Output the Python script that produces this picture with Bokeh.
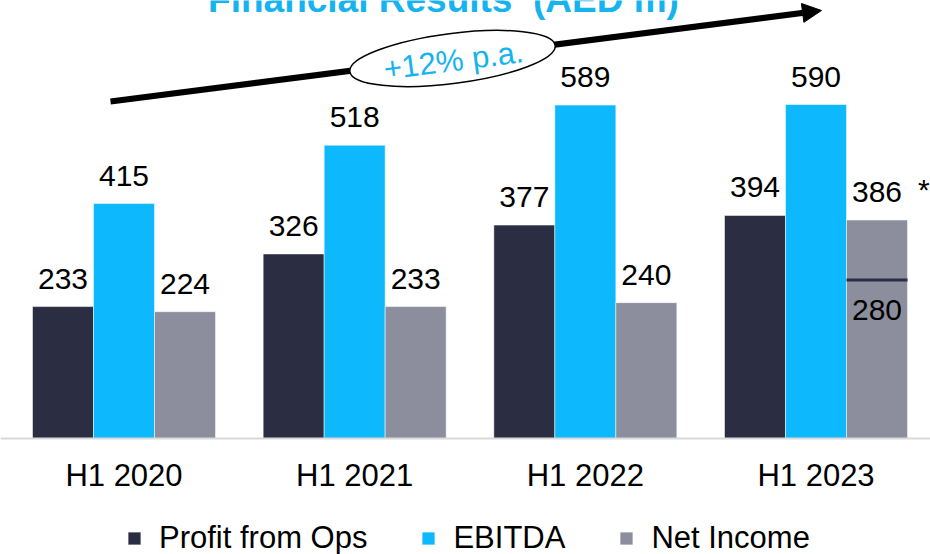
import numpy as np
from bokeh.plotting import figure
from bokeh.models import (Range1d, FixedTicker, ColumnDataSource, LabelSet, Label,
                          Arrow, NormalHead, Legend, LegendItem)
from bokeh.core.properties import value
from bokeh.embed import file_html
from bokeh.resources import INLINE

# ---------------- data ----------------
periods = ["H1 2020", "H1 2021", "H1 2022", "H1 2023"]
profit_ops = [233, 326, 377, 394]
ebitda = [415, 518, 589, 590]
net_income = [224, 233, 240, 386]
net_income_labels = ["224", "233", "240", "386"]
adj_net_income_2023 = 280
series_names = ["Profit from Ops", "EBITDA", "Net Income"]
growth_label = "+12% p.a."
title_text = "Financial Results\u00a0 (AED m)"

# ---------------- styles ----------------
C_DARK = "#2b2d42"
C_CYAN = "#0db9fc"
C_GREY = "#8c8e9e"
C_TXT_CYAN = "#17b3ee"
FONT = "Liberation Sans"

# page geometry (picture pixels)
WIDTH, HEIGHT = 930, 554
X0, DX = 123.5, 230.67      # centre of first group, spacing between groups
BASE, PXU = 438.0, 0.5661   # baseline y, pixels per AED m
W = 61.0 / DX               # bar width in group units

def dx(ix):
    return (ix - X0) / DX

def dy(iy):
    return (BASE - iy) / PXU

p = figure(width=WIDTH, height=HEIGHT, output_backend="svg", toolbar_location=None,
           x_range=Range1d(dx(0), dx(WIDTH)), y_range=Range1d(dy(HEIGHT), dy(0)),
           y_axis_location=None, min_border_left=0, min_border_right=0,
           min_border_top=0, min_border_bottom=0)
p.outline_line_color = None
p.xgrid.visible = False
p.ygrid.visible = False
p.background_fill_color = "white"
p.border_fill_color = "white"

idx = np.arange(len(periods))
offsets = [-W, 0.0, W]
colors = [C_DARK, C_CYAN, C_GREY]
series = [profit_ops, ebitda, net_income]
renderers = []
for vals, off, col in zip(series, offsets, colors):
    src = ColumnDataSource(dict(x=idx + off, top=vals))
    r = p.vbar(x="x", top="top", width=W, bottom=0, source=src,
               fill_color=col, line_color="white", line_alpha=0.5, line_width=1)
    renderers.append(r)

# value labels
label_texts = [[str(v) for v in profit_ops], [str(v) for v in ebitda], net_income_labels]
for vals, off, txts in zip(series, offsets, label_texts):
    src = ColumnDataSource(dict(x=idx + off, y=vals, t=txts))
    p.add_layout(LabelSet(x="x", y="y", text="t", source=src, y_offset=18,
                          text_align="center", text_baseline="alphabetic",
                          text_font=value(FONT), text_font_size="30px",
                          text_color="#000000"))

# asterisk on the last net income value
last = len(periods) - 1
p.add_layout(Label(x=last + W, y=net_income[last], text="*", x_offset=41, y_offset=30,
                   text_align="left", text_baseline="alphabetic",
                   text_font=FONT, text_font_size="30px", text_color="#000000"))

# adjusted net income marker
p.segment(x0=[last + W - W / 2], x1=[last + W + W / 2],
          y0=[adj_net_income_2023], y1=[adj_net_income_2023],
          line_color=C_DARK, line_width=3)
p.add_layout(Label(x=last + W, y=adj_net_income_2023, text=str(adj_net_income_2023),
                   y_offset=-30, text_align="center", text_baseline="alphabetic",
                   text_font=FONT, text_font_size="30px", text_color="#000000"))

# growth arrow with ellipse
arrow = Arrow(x_start=dx(110), y_start=dy(101), x_end=dx(821), y_end=dy(10),
              line_width=6, line_color="black",
              end=NormalHead(size=19, fill_color="black", line_color="black"))
arrow.level = "underlay"
p.add_layout(arrow)
ang = np.arctan2(101 - 10, 821 - 110)
p.ellipse(x=[dx(452)], y=[dy(58)], width=207, height=50, angle=ang,
          width_units="screen", height_units="screen",
          fill_color="white", line_color="black", line_width=1.5)
p.add_layout(Label(x=dx(453), y=dy(60), text=growth_label, angle=ang,
                   text_align="center", text_baseline="middle",
                   text_font=FONT, text_font_size="31px", text_color=C_TXT_CYAN))

# title (cut off at the top, as in the source)
p.add_layout(Label(x=dx(443), y=dy(-1), text=title_text,
                   text_align="center", text_baseline="alphabetic",
                   text_font=FONT, text_font_size="37px", text_font_style="bold",
                   text_color=C_TXT_CYAN))

# x axis drawn at the zero line
ax = p.xaxis[0]
ax.fixed_location = 0
ax.ticker = FixedTicker(ticks=list(idx))
ax.major_label_overrides = {int(i): lab for i, lab in zip(idx, periods)}
ax.major_tick_line_color = None
ax.minor_tick_line_color = None
ax.major_tick_out = 0
ax.major_tick_in = 0
ax.axis_line_color = "#d9d9d9"
ax.axis_line_width = 2
ax.major_label_standoff = 19
ax.major_label_text_font = FONT
ax.major_label_text_font_size = "31px"
ax.major_label_text_color = "#000000"

# legend
legend = Legend(items=[LegendItem(label=n, renderers=[r]) for n, r in zip(series_names, renderers)],
                orientation="horizontal", location=(126, -2),
                glyph_width=16, glyph_height=16, label_standoff=17, spacing=53,
                padding=0, margin=0, border_line_color=None,
                background_fill_alpha=0,
                label_text_font=FONT, label_text_font_size="31px",
                label_text_color="#000000")
p.add_layout(legend)

open("out.html", "w").write(file_html(p, INLINE))
